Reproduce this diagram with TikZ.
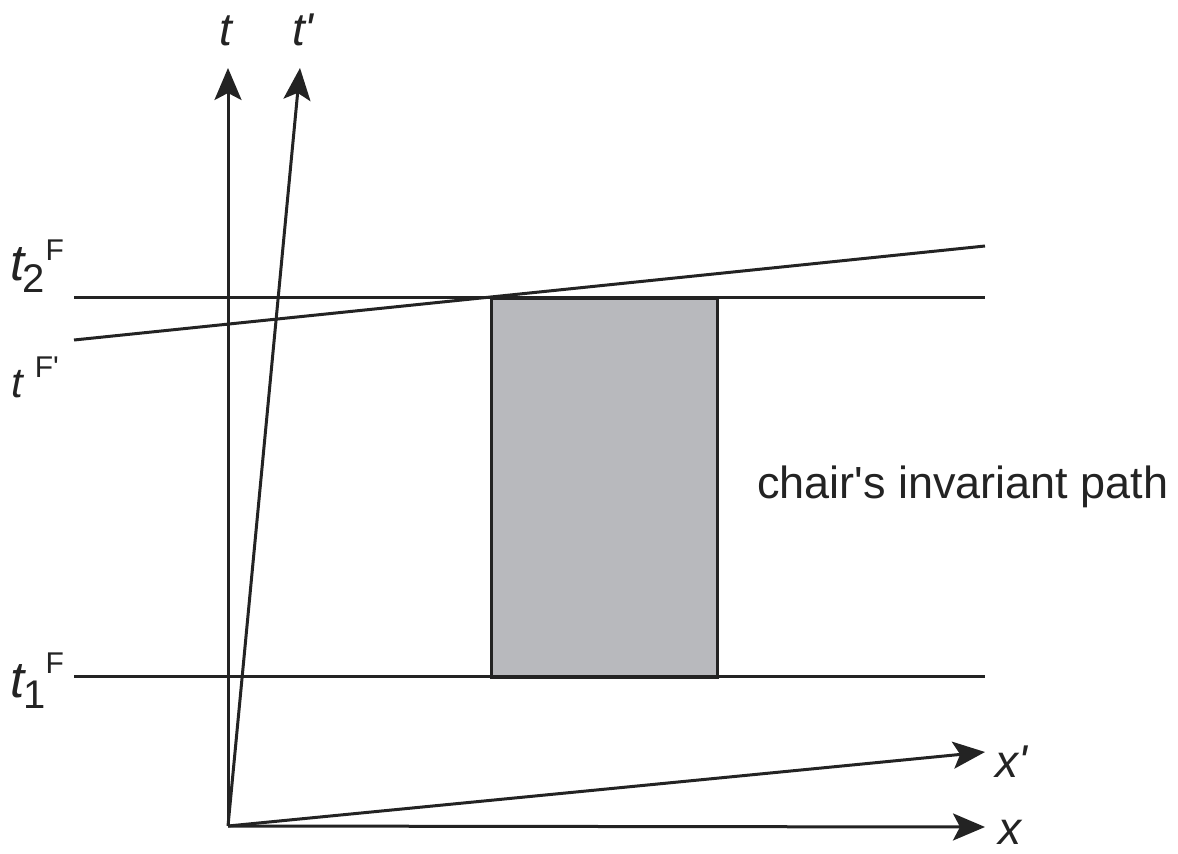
\documentclass[tikz,border=0pt]{standalone}
\usepackage{fontspec}
\setmainfont{Liberation Sans}
\usetikzlibrary{arrows.meta}
\definecolor{boxgray}{RGB}{184,185,189}
\definecolor{ink}{RGB}{35,35,35}
\newcommand{\fsz}[1]{\fontsize{#1}{#1}\selectfont}
\begin{document}
\begin{tikzpicture}[x=1pt,y=-1pt,
  ax/.style={line width=3pt,draw=ink,-{Stealth[length=32pt,width=27pt,inset=7pt]}},
  ln/.style={line width=3pt,draw=ink},
  lbl/.style={inner sep=0pt,anchor=base west,text=ink,font=\fsz{46}\itshape},
  side/.style={inner sep=0pt,anchor=base west,text=ink}]
\useasboundingbox (0,0) rectangle (1178,854);
% coordinates
\coordinate (O) at (228,826);
\coordinate (tT) at (228,68);
\coordinate (tpT) at (300,68);
\coordinate (xT) at (985,827);
\coordinate (xpT) at (985,752);
\coordinate (h2a) at (74,297);
\coordinate (h2b) at (985,297);
\coordinate (h1a) at (74,676);
\coordinate (h1b) at (985,676);
\coordinate (fpa) at (74,340);
\coordinate (fpb) at (985,246);
% chair path
\node[draw=ink,line width=3pt,fill=boxgray,minimum width=226pt,minimum height=379pt,inner sep=0pt,anchor=north west] (box) at (490,297) {};
% lines
\draw[ln] (h2a) -- (h2b);
\draw[ln] (h1a) -- (h1b);
\draw[ln] (fpa) -- (fpb);
% axes
\draw[ax] (O) -- (tT);
\draw[ax] (O) -- (tpT);
\draw[ax] (O) -- (xT);
\draw[ax] (O) -- (xpT);
% axis labels
\node[lbl] (lt) at (219,45) {t};
\node[lbl] (ltp) at (292,45) {t\textquotesingle};
\node[lbl] (lxp) at (995,777) {x\textquotesingle};
\node[lbl] (lx) at (998,844) {x};
% left labels
\node[side] (t2) at (10,280) {{\fsz{51}\itshape t}\kern-2pt\raisebox{-12pt}{\fsz{40}2}\kern1pt\raisebox{20pt}{\fsz{30}F}};
\node[side] (tf) at (11,397) {{\fsz{42}\itshape t}\kern12pt\raisebox{20pt}{\fsz{30}F\textquotesingle}};
\node[side] (t1) at (10,697) {{\fsz{51}\itshape t}\kern-1pt\raisebox{-11pt}{\fsz{40}1}\kern0pt\raisebox{24pt}{\fsz{30}F}};
% caption
\node[side,font=\fsz{45}] (cap) at (757,498) {chair\textquotesingle s invariant path};
\end{tikzpicture}
\end{document}
